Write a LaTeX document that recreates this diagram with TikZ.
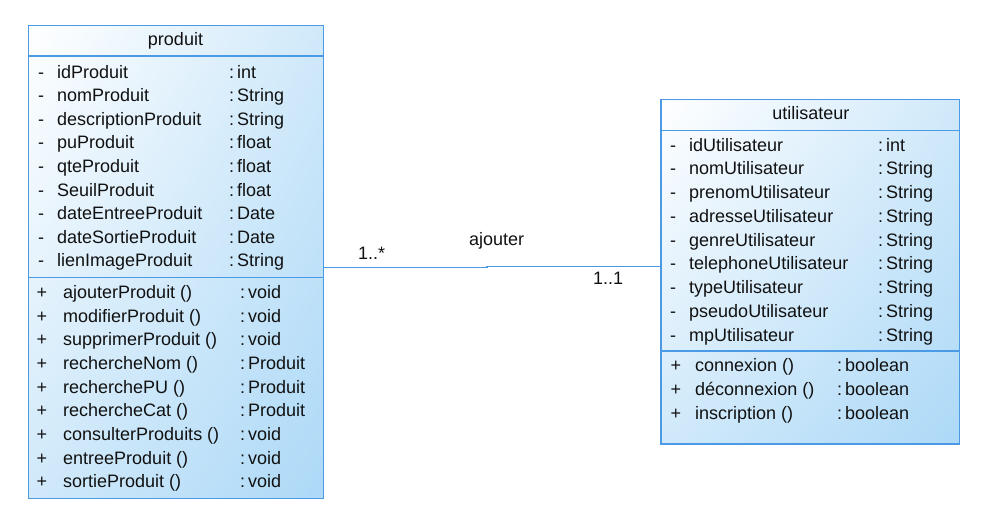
\documentclass[tikz,border=0pt]{standalone}
\usepackage{fontspec}
\setmainfont{Liberation Sans}
\usetikzlibrary{shadings}
\definecolor{bordbleu}{HTML}{4A9AE6}
\definecolor{fondbleu}{HTML}{ADD9F7}
\definecolor{fondclair}{HTML}{D0E9FA}
\definecolor{texte}{HTML}{111111}
\begin{document}
\begin{tikzpicture}
[x=1pt,y=-1pt,
 classe/.style={draw=bordbleu,line width=1.4pt,inner sep=0pt,
   upper left=white,upper right=fondclair,lower left=fondclair,lower right=fondbleu},
 ligne/.style={draw=bordbleu,line width=1.4pt},
 txt/.style={anchor=base west,inner sep=0pt,text=texte,font=\fontsize{18}{20}\selectfont},
 titre/.style={anchor=base,inner sep=0pt,text=texte,font=\fontsize{18}{20}\selectfont}]
\useasboundingbox (0,0) rectangle (1003,511);
% classe produit
\node[classe,minimum width=295pt,minimum height=473pt] (produit) at (176.2,262.2) {};
\draw[ligne] (produit.west |- 0,56) -- (produit.east |- 0,56);
\draw[ligne] (produit.west |- 0,277.3) -- (produit.east |- 0,277.3);
\draw (175.5,46) node[titre] (ptitre) {produit};
\draw (38,78) node[txt] (pa1) {-} (57,78) node[txt] (pa1n) {idProduit} (229,78) node[txt] (pa1t) {:\,int};
\draw (38,101.6) node[txt] (pa2) {-} (57,101.6) node[txt] (pa2n) {nomProduit} (229,101.6) node[txt] (pa2t) {:\,String};
\draw (38,125.2) node[txt] (pa3) {-} (57,125.2) node[txt] (pa3n) {descriptionProduit} (229,125.2) node[txt] (pa3t) {:\,String};
\draw (38,148.8) node[txt] (pa4) {-} (57,148.8) node[txt] (pa4n) {puProduit} (229,148.8) node[txt] (pa4t) {:\,float};
\draw (38,172.4) node[txt] (pa5) {-} (57,172.4) node[txt] (pa5n) {qteProduit} (229,172.4) node[txt] (pa5t) {:\,float};
\draw (38,196) node[txt] (pa6) {-} (57,196) node[txt] (pa6n) {SeuilProduit} (229,196) node[txt] (pa6t) {:\,float};
\draw (38,219.6) node[txt] (pa7) {-} (57,219.6) node[txt] (pa7n) {dateEntreeProduit} (229,219.6) node[txt] (pa7t) {:\,Date};
\draw (38,243.2) node[txt] (pa8) {-} (57,243.2) node[txt] (pa8n) {dateSortieProduit} (229,243.2) node[txt] (pa8t) {:\,Date};
\draw (38,266.8) node[txt] (pa9) {-} (57,266.8) node[txt] (pa9n) {lienImageProduit} (229,266.8) node[txt] (pa9t) {:\,String};
\draw (36.5,298.3) node[txt] (pm1) {+} (63,298.3) node[txt] (pm1n) {ajouterProduit ()} (240,298.3) node[txt] (pm1t) {:\,void};
\draw (36.5,322) node[txt] (pm2) {+} (63,322) node[txt] (pm2n) {modifierProduit ()} (240,322) node[txt] (pm2t) {:\,void};
\draw (36.5,345.7) node[txt] (pm3) {+} (63,345.7) node[txt] (pm3n) {supprimerProduit ()} (240,345.7) node[txt] (pm3t) {:\,void};
\draw (36.5,369.4) node[txt] (pm4) {+} (63,369.4) node[txt] (pm4n) {rechercheNom ()} (240,369.4) node[txt] (pm4t) {:\,Produit};
\draw (36.5,393.1) node[txt] (pm5) {+} (63,393.1) node[txt] (pm5n) {recherchePU ()} (240,393.1) node[txt] (pm5t) {:\,Produit};
\draw (36.5,416.8) node[txt] (pm6) {+} (63,416.8) node[txt] (pm6n) {rechercheCat ()} (240,416.8) node[txt] (pm6t) {:\,Produit};
\draw (36.5,440.5) node[txt] (pm7) {+} (63,440.5) node[txt] (pm7n) {consulterProduits ()} (240,440.5) node[txt] (pm7t) {:\,void};
\draw (36.5,464.2) node[txt] (pm8) {+} (63,464.2) node[txt] (pm8n) {entreeProduit ()} (240,464.2) node[txt] (pm8t) {:\,void};
\draw (36.5,487.9) node[txt] (pm9) {+} (63,487.9) node[txt] (pm9n) {sortieProduit ()} (240,487.9) node[txt] (pm9t) {:\,void};
% classe utilisateur
\node[classe,minimum width=298.3pt,minimum height=344.7pt] (utilisateur) at (810.2,271.6) {};
\draw[ligne] (utilisateur.west |- 0,130.3) -- (utilisateur.east |- 0,130.3);
\draw[ligne] (utilisateur.west |- 0,351) -- (utilisateur.east |- 0,351);
\draw (810.8,119.3) node[titre] (utitre) {utilisateur};
\draw (670,151) node[txt] (ua1) {-} (689,151) node[txt] (ua1n) {idUtilisateur} (878,151) node[txt] (ua1t) {:\,int};
\draw (670,174.8) node[txt] (ua2) {-} (689,174.8) node[txt] (ua2n) {nomUtilisateur} (878,174.8) node[txt] (ua2t) {:\,String};
\draw (670,198.5) node[txt] (ua3) {-} (689,198.5) node[txt] (ua3n) {prenomUtilisateur} (878,198.5) node[txt] (ua3t) {:\,String};
\draw (670,222.3) node[txt] (ua4) {-} (689,222.3) node[txt] (ua4n) {adresseUtilisateur} (878,222.3) node[txt] (ua4t) {:\,String};
\draw (670,246) node[txt] (ua5) {-} (689,246) node[txt] (ua5n) {genreUtilisateur} (878,246) node[txt] (ua5t) {:\,String};
\draw (670,269.8) node[txt] (ua6) {-} (689,269.8) node[txt] (ua6n) {telephoneUtilisateur} (878,269.8) node[txt] (ua6t) {:\,String};
\draw (670,293.5) node[txt] (ua7) {-} (689,293.5) node[txt] (ua7n) {typeUtilisateur} (878,293.5) node[txt] (ua7t) {:\,String};
\draw (670,317.3) node[txt] (ua8) {-} (689,317.3) node[txt] (ua8n) {pseudoUtilisateur} (878,317.3) node[txt] (ua8t) {:\,String};
\draw (670,341) node[txt] (ua9) {-} (689,341) node[txt] (ua9n) {mpUtilisateur} (878,341) node[txt] (ua9t) {:\,String};
\draw (670.5,371.7) node[txt] (um1) {+} (695,371.7) node[txt] (um1n) {connexion ()} (837,371.7) node[txt] (um1t) {:\,boolean};
\draw (670.5,395.5) node[txt] (um2) {+} (695,395.5) node[txt] (um2n) {déconnexion ()} (837,395.5) node[txt] (um2t) {:\,boolean};
\draw (670.5,419.3) node[txt] (um3) {+} (695,419.3) node[txt] (um3n) {inscription ()} (837,419.3) node[txt] (um3t) {:\,boolean};
% association
\coordinate (coude) at (487,267.7);
\draw[ligne] (produit.east |- coude) -- (coude) -- ++(0,-1.4) -- (utilisateur.west |- 0,266.3);
\draw (358,259) node[txt] (mult1) {1..*};
\draw (469,245) node[txt] (assoc) {ajouter};
\draw (593,284) node[txt] (mult2) {1..1};
\end{tikzpicture}
\end{document}
